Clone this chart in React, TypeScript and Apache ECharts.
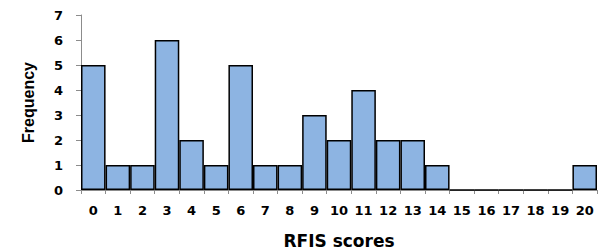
import React, { useEffect, useRef } from "react";
import * as echarts from "echarts";

const categories = ["0","1","2","3","4","5","6","7","8","9","10","11","12","13","14","15","16","17","18","19","20"];
const frequencies = [5,1,1,6,2,1,5,1,1,3,2,4,2,2,1,0,0,0,0,0,1];
const yTicks = { min: 0, max: 7, interval: 1 };

export default function App() {
  const ref = useRef<HTMLDivElement>(null);
  useEffect(() => {
    document.body.style.margin = "0";
    const chart = echarts.init(ref.current!, null, { renderer: "svg" });
    chart.setOption({
      animation: false,
      backgroundColor: "#ffffff",
      grid: { left: 81, right: 1, top: 15, bottom: 59, containLabel: false, outerBoundsMode: "none" },
      xAxis: {
        type: "category",
        data: categories,
        name: "RFIS scores",
        nameLocation: "middle",
        nameGap: 42,
        nameTextStyle: { fontFamily: "DejaVu Sans", fontWeight: "bold", fontSize: 17, color: "#000" },
        axisLine: { lineStyle: { color: "#8c8c8c", width: 1 } },
        axisTick: { show: true, length: 4, lineStyle: { color: "#8c8c8c" } },
        axisLabel: { interval: 0, margin: 14, fontFamily: "DejaVu Sans", fontWeight: "bold", fontSize: 13, color: "#000" },
        splitLine: { show: false },
      },
      yAxis: {
        type: "value",
        min: yTicks.min,
        max: yTicks.max,
        interval: yTicks.interval,
        name: "Frequency",
        nameLocation: "middle",
        nameGap: 45,
        nameTextStyle: { fontFamily: "Liberation Sans", fontWeight: "bold", fontSize: 16, color: "#000" },
        axisLine: { show: true, lineStyle: { color: "#8c8c8c", width: 1 } },
        axisTick: { show: true, length: 5, lineStyle: { color: "#8c8c8c" } },
        axisLabel: { margin: 18, fontFamily: "DejaVu Sans", fontWeight: "bold", fontSize: 13, color: "#000" },
        splitLine: { show: false },
      },
      series: [
        {
          type: "bar",
          data: frequencies,
          barCategoryGap: "0%",
          itemStyle: { color: "#8db4e2", borderColor: "#000000", borderWidth: 1.5 },
        },
      ],
    });
    return () => chart.dispose();
  }, []);
  return <div ref={ref} style={{ position: "absolute", left: 0, top: 0, width: 598, height: 249 }} />;
}
